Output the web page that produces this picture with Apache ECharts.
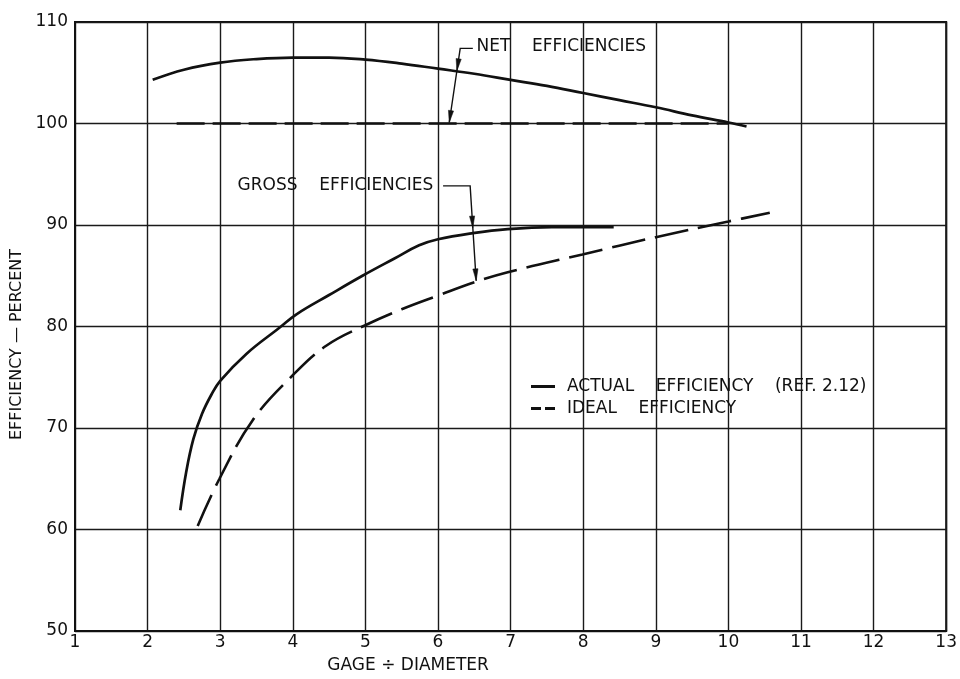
<!DOCTYPE html>
<html>
<head>
<meta charset="utf-8">
<script src="https://cdn.jsdelivr.net/npm/echarts@6/dist/echarts.min.js"></script>
<style>
  html, body { margin: 0; padding: 0; background: #fff; }
  #chart { width: 960px; height: 679px; }
</style>
</head>
<body>
<div id="chart"></div>
<script>
// Axis ranges
const xMin = 1, xMax = 13, xStep = 1;
const yMin = 50, yMax = 110, yStep = 10;

// Net efficiencies
const netActualX = [2.07, 2.5, 3.0, 3.5, 4.0, 4.5, 5.0, 5.5, 6.0, 6.5, 7.0, 7.5, 8.0, 8.5, 9.0, 9.5, 10.0, 10.25];
const netActualY = [104.3, 105.3, 106.0, 106.35, 106.5, 106.5, 106.3, 105.9, 105.4, 104.9, 104.3, 103.7, 103.0, 102.3, 101.6, 100.8, 100.1, 99.7];
const netIdealX = [2.4, 10.0];
const netIdealY = [100, 100];

// Gross efficiencies
const grossActualX = [2.45, 2.53, 2.63, 2.75, 2.88, 3.0, 3.36, 3.82, 4.05, 4.5, 4.96, 5.4, 5.74, 6.0, 6.48, 6.96, 7.57, 8.42];
const grossActualY = [61.9, 65.6, 68.9, 71.4, 73.3, 74.65, 77.3, 79.9, 81.2, 83.1, 85.0, 86.7, 88.0, 88.6, 89.2, 89.6, 89.8, 89.8];
const grossIdealX = [2.69, 2.99, 3.45, 4.0, 4.46, 4.99, 5.5, 6.02, 6.52, 6.96, 7.99, 9.0, 10.0, 10.57];
const grossIdealY = [60.35, 65.0, 70.8, 75.2, 78.1, 80.1, 81.7, 83.1, 84.4, 85.35, 87.1, 88.8, 90.35, 91.2];

// Text
const actualName = 'ACTUAL    EFFICIENCY    (REF. 2.12)';
const idealName = 'IDEAL    EFFICIENCY';
const xTitle = 'GAGE \u00F7 DIAMETER';
const yTitle = 'EFFICIENCY \u2014 PERCENT';
const netLabel = 'NET    EFFICIENCIES';
const grossLabel = 'GROSS    EFFICIENCIES';

// Callout anchors (data coordinates)
const netLabelPos = [6.53, 107.6];
const netLeader = [[6.48, 107.4], [6.306, 107.4], [6.155, 100.1]];
const netArrowAtY = 105.2;
const grossLabelPos = [3.24, 93.85];
const grossLeader = [[6.07, 93.85], [6.443, 93.85], [6.526, 84.5]];
const grossArrowAtY = 89.7;

const FONT = '"DejaVu Sans", "Liberation Sans", sans-serif';
const INK = '#111';

const zip = (xs, ys) => xs.map((x, i) => [x, ys[i]]);

const chart = echarts.init(document.getElementById('chart'), null, { renderer: 'canvas' });

const option = {
  backgroundColor: '#fff',
  animation: false,
  textStyle: { fontFamily: FONT, color: INK },
  grid: {
    left: 75, right: 12, top: 22, bottom: 37,
    show: true, borderColor: INK, borderWidth: 2, backgroundColor: 'transparent'
  },
  legend: {
    show: true,
    orient: 'vertical',
    left: 526, top: 373,
    itemWidth: 24, itemHeight: 3, itemGap: 5,
    selectedMode: false,
    itemStyle: { color: INK },
    textStyle: { fontFamily: FONT, fontSize: 17, color: INK, padding: [0, 0, 0, 7] },
    data: [
      { name: actualName, icon: 'path://M0,0H24V3H0Z' },
      { name: idealName, icon: 'path://M0,0H10V3H0Z M14,0H24V3H14Z' }
    ]
  },
  xAxis: {
    type: 'value', min: xMin, max: xMax, interval: xStep,
    name: xTitle, nameLocation: 'middle', nameGap: 26,
    nameTextStyle: { fontFamily: FONT, fontSize: 17, color: INK, padding: [0, 205, 0, 0] },
    axisLine: { show: true, lineStyle: { color: INK, width: 2 } },
    axisTick: { show: false },
    axisLabel: { fontFamily: FONT, fontSize: 17, color: INK, margin: 3 },
    splitLine: { show: true, lineStyle: { color: '#1a1a1a', width: 1.4 } }
  },
  yAxis: {
    type: 'value', min: yMin, max: yMax, interval: yStep,
    name: yTitle, nameLocation: 'middle', nameGap: 50, nameRotate: 90,
    nameTextStyle: { fontFamily: FONT, fontSize: 16, color: INK, padding: [0, 36, 0, 0] },
    axisLine: { show: true, lineStyle: { color: INK, width: 2 } },
    axisTick: { show: false },
    axisLabel: { fontFamily: FONT, fontSize: 17, color: INK, margin: 7, padding: [0, 0, 12, 0] },
    splitLine: { show: true, lineStyle: { color: '#1a1a1a', width: 1.4 } }
  },
  series: [
    {
      name: actualName, type: 'line', data: zip(netActualX, netActualY),
      smooth: 0.4, symbol: 'none', showSymbol: false,
      lineStyle: { color: INK, width: 2.7, type: 'solid' }, itemStyle: { color: INK }
    },
    {
      name: idealName, type: 'line', data: zip(netIdealX, netIdealY),
      symbol: 'none', showSymbol: false,
      lineStyle: { color: INK, width: 2.6, type: [28, 8] }, itemStyle: { color: INK }
    },
    {
      name: actualName, type: 'line', data: zip(grossActualX, grossActualY),
      smooth: 0.4, symbol: 'none', showSymbol: false,
      lineStyle: { color: INK, width: 2.7, type: 'solid' }, itemStyle: { color: INK }
    },
    {
      name: idealName, type: 'line', data: zip(grossIdealX, grossIdealY),
      smooth: 0.4, symbol: 'none', showSymbol: false,
      lineStyle: { color: INK, width: 2.6, type: [34, 10] }, itemStyle: { color: INK }
    }
  ]
};

chart.setOption(option);

// Callouts: labels, leader lines and arrowheads placed through the grid's scales
function px(p) { return chart.convertToPixel({ gridIndex: 0 }, p); }

function arrowHead(tip, from, len, half) {
  const dx = tip[0] - from[0], dy = tip[1] - from[1];
  const d = Math.hypot(dx, dy) || 1;
  const ux = dx / d, uy = dy / d;
  const bx = tip[0] - ux * len, by = tip[1] - uy * len;
  return {
    type: 'polygon',
    shape: { points: [tip, [bx - uy * half, by + ux * half], [bx + uy * half, by - ux * half]] },
    style: { fill: INK, stroke: INK, lineWidth: 0.5 },
    silent: true
  };
}

function callout(labelPos, label, leader, arrowY) {
  const lp = px(labelPos);
  const pts = leader.map(px);
  const a = pts[pts.length - 2], b = pts[pts.length - 1];
  // point on the sloped leg where it meets the solid curve
  const midPix = px([leader[0][0], arrowY])[1];
  const t = (midPix - a[1]) / (b[1] - a[1]);
  const mid = [a[0] + (b[0] - a[0]) * t, midPix];
  return [
    {
      type: 'text', silent: true,
      style: {
        text: label, x: lp[0], y: lp[1], font: '17px ' + FONT, fill: INK,
        textAlign: 'left', textVerticalAlign: 'middle', align: 'left', verticalAlign: 'middle'
      }
    },
    {
      type: 'polyline', silent: true,
      shape: { points: pts },
      style: { stroke: INK, lineWidth: 1.4, fill: null }
    },
    arrowHead(mid, a, 12, 2.6),
    arrowHead(b, a, 12, 2.6)
  ];
}

chart.setOption({
  graphic: [].concat(
    callout(netLabelPos, netLabel, netLeader, netArrowAtY),
    callout(grossLabelPos, grossLabel, grossLeader, grossArrowAtY)
  )
});
</script>
</body>
</html>
